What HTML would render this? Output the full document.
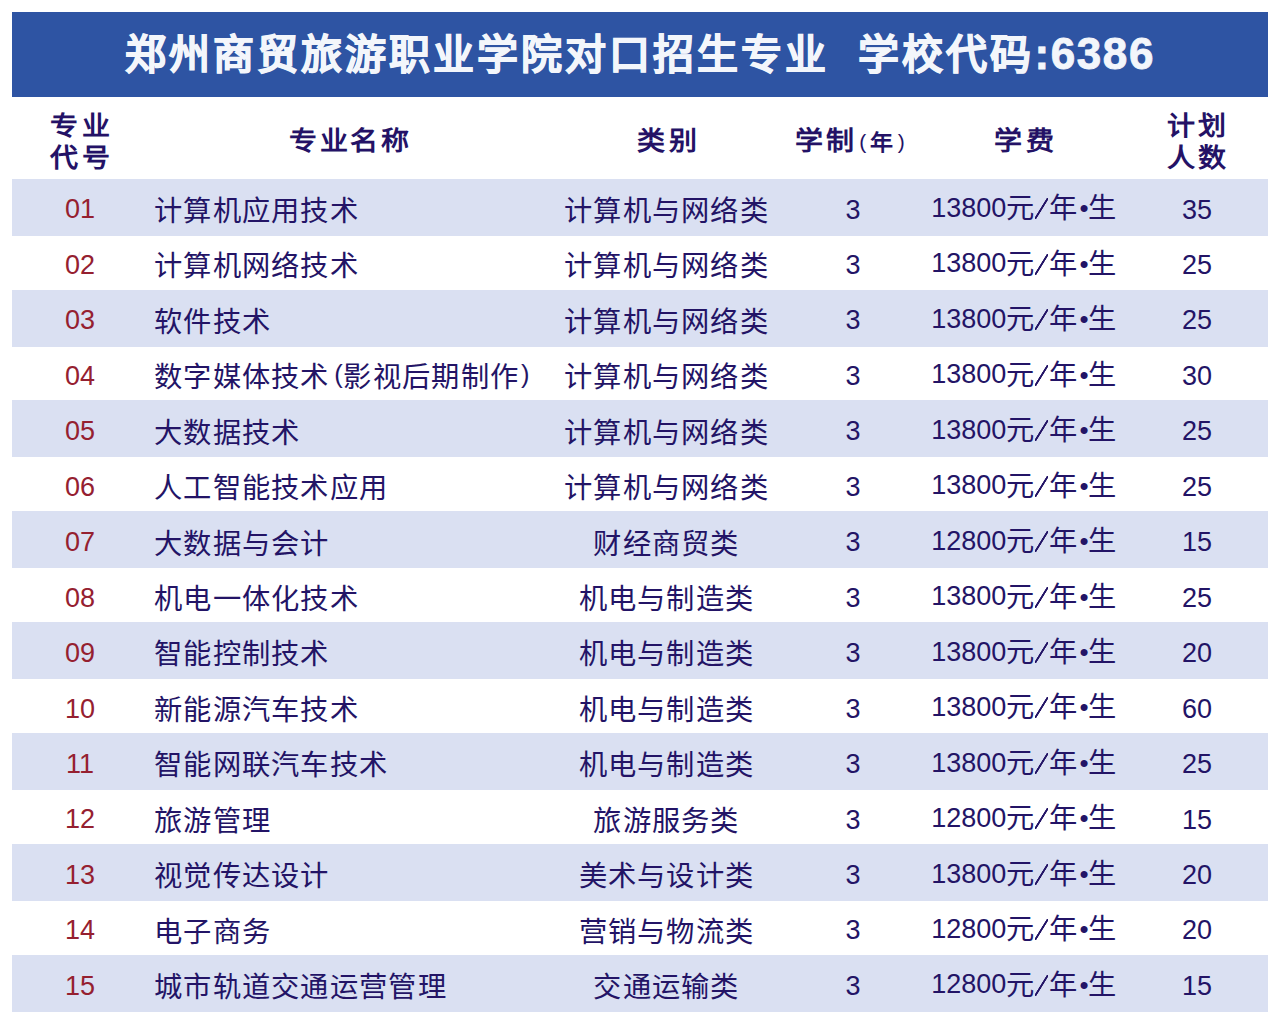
<!DOCTYPE html>
<html lang="zh-CN"><head><meta charset="utf-8"><title>郑州商贸旅游职业学院对口招生专业</title><style>
html,body{margin:0;padding:0;background:#fff;}
body{width:1280px;height:1024px;position:relative;overflow:hidden;font-family:"Liberation Sans",sans-serif;color:#231466;}
.bar{position:absolute;left:12px;top:12px;width:1256px;height:85px;background:#2e54a3;}
.title{position:absolute;left:0;top:24px;width:1280px;height:60px;line-height:60px;text-align:center;color:#f3f6fb;font-size:41px;font-weight:700;letter-spacing:3px;-webkit-text-stroke:0.9px #f3f6fb;white-space:nowrap;}
.title .gap{display:inline-block;width:29.5px;}
.title .n{letter-spacing:1.6px;font-size:44px;}
.st{position:absolute;left:12px;width:1256px;height:57px;background:#dae0f2;}
.h{position:absolute;font-weight:bold;font-size:28px;letter-spacing:2.5px;white-space:nowrap;text-align:center;color:#241266;}
.h{transform:scaleY(0.93);}
.h2{line-height:35px;letter-spacing:3.5px;}
.h .s{font-size:23px;letter-spacing:0;}
.h .s i{font-style:normal;display:inline-block;font-weight:normal;font-size:21px;position:relative;top:-2.4px;}
.r{position:absolute;left:0;width:1280px;height:56px;}
.r div{position:absolute;top:0;height:56px;line-height:56px;white-space:nowrap;font-size:28.3px;letter-spacing:1.3px;}
.d{font-size:27px;letter-spacing:0;position:relative;top:-2.3px;}
.code{left:30px;width:100px;text-align:center;color:#952030;font-size:27px!important;letter-spacing:0!important;}
.code span{position:relative;top:-1.4px;}
.name{left:154px;}
.lp{margin-left:4.5px;margin-right:0.5px;letter-spacing:0;font-size:25.5px;position:relative;top:-4.2px;}
.rp{margin-left:1.9px;letter-spacing:0;font-size:25.5px;position:relative;top:-4.2px;}
.cat{left:516.5px;width:300px;text-align:center;}
.yr{left:803px;width:100px;text-align:center;}
.fee{left:874px;width:300px;text-align:center;margin-top:-2.5px;}
.fee .d{top:-1.3px;}
.sl{display:inline-block;overflow:hidden;color:transparent;font-style:normal;font-size:18px;line-height:21px;text-align:center;width:13px;height:21px;margin:0 1.5px 0 -1px;vertical-align:-1px;background:linear-gradient(to bottom right,transparent calc(50% - 1.3px),#231466 calc(50% - 0.7px),#231466 calc(50% + 0.7px),transparent calc(50% + 1.3px));}
.bu{font-size:26px;letter-spacing:0;margin:0 -1px 0 1px;position:relative;top:-1px;}
.num{left:1147px;width:100px;text-align:center;}
</style></head><body>
<div class="bar"></div>
<div class="title">郑州商贸旅游职业学院对口招生专业<span class="gap"></span>学校代码<span class="n">:6386</span></div>
<div class="h h2" style="left:31.5px;top:106.7px;width:100px;">专业<br>代号</div>
<div class="h" style="left:200px;top:124px;width:300px;line-height:36px;">专业名称</div>
<div class="h" style="left:518.5px;top:124px;width:300px;line-height:36px;letter-spacing:4px;">类别</div>
<div class="h" style="left:750px;top:124px;width:200px;line-height:36px;">学制<span class="s"><i style="margin:0 3.5px 0 3px">(</i>年<i style="margin:0 0 0 5px">)</i></span></div>
<div class="h" style="left:876px;top:124px;width:300px;line-height:36px;letter-spacing:4px;">学费</div>
<div class="h h2" style="left:1148.3px;top:106.7px;width:100px;">计划<br>人数</div>
<div class="st" style="top:178.60px"></div>
<div class="r" style="top:182.80px"><div class="code"><span>01</span></div><div class="name">计算机应用技术</div><div class="cat">计算机与网络类</div><div class="yr"><span class="d">3</span></div><div class="fee"><span class="d">13800</span>元<i class="sl">/</i>年<span class="bu">•</span>生</div><div class="num"><span class="d">35</span></div></div>
<div class="r" style="top:238.26px"><div class="code"><span>02</span></div><div class="name">计算机网络技术</div><div class="cat">计算机与网络类</div><div class="yr"><span class="d">3</span></div><div class="fee"><span class="d">13800</span>元<i class="sl">/</i>年<span class="bu">•</span>生</div><div class="num"><span class="d">25</span></div></div>
<div class="st" style="top:289.52px"></div>
<div class="r" style="top:293.72px"><div class="code"><span>03</span></div><div class="name">软件技术</div><div class="cat">计算机与网络类</div><div class="yr"><span class="d">3</span></div><div class="fee"><span class="d">13800</span>元<i class="sl">/</i>年<span class="bu">•</span>生</div><div class="num"><span class="d">25</span></div></div>
<div class="r" style="top:349.18px"><div class="code"><span>04</span></div><div class="name">数字媒体技术<span class="lp">(</span>影视后期制作<span class="rp">)</span></div><div class="cat">计算机与网络类</div><div class="yr"><span class="d">3</span></div><div class="fee"><span class="d">13800</span>元<i class="sl">/</i>年<span class="bu">•</span>生</div><div class="num"><span class="d">30</span></div></div>
<div class="st" style="top:400.44px"></div>
<div class="r" style="top:404.64px"><div class="code"><span>05</span></div><div class="name">大数据技术</div><div class="cat">计算机与网络类</div><div class="yr"><span class="d">3</span></div><div class="fee"><span class="d">13800</span>元<i class="sl">/</i>年<span class="bu">•</span>生</div><div class="num"><span class="d">25</span></div></div>
<div class="r" style="top:460.10px"><div class="code"><span>06</span></div><div class="name">人工智能技术应用</div><div class="cat">计算机与网络类</div><div class="yr"><span class="d">3</span></div><div class="fee"><span class="d">13800</span>元<i class="sl">/</i>年<span class="bu">•</span>生</div><div class="num"><span class="d">25</span></div></div>
<div class="st" style="top:511.36px"></div>
<div class="r" style="top:515.56px"><div class="code"><span>07</span></div><div class="name">大数据与会计</div><div class="cat">财经商贸类</div><div class="yr"><span class="d">3</span></div><div class="fee"><span class="d">12800</span>元<i class="sl">/</i>年<span class="bu">•</span>生</div><div class="num"><span class="d">15</span></div></div>
<div class="r" style="top:571.02px"><div class="code"><span>08</span></div><div class="name">机电一体化技术</div><div class="cat">机电与制造类</div><div class="yr"><span class="d">3</span></div><div class="fee"><span class="d">13800</span>元<i class="sl">/</i>年<span class="bu">•</span>生</div><div class="num"><span class="d">25</span></div></div>
<div class="st" style="top:622.28px"></div>
<div class="r" style="top:626.48px"><div class="code"><span>09</span></div><div class="name">智能控制技术</div><div class="cat">机电与制造类</div><div class="yr"><span class="d">3</span></div><div class="fee"><span class="d">13800</span>元<i class="sl">/</i>年<span class="bu">•</span>生</div><div class="num"><span class="d">20</span></div></div>
<div class="r" style="top:681.94px"><div class="code"><span>10</span></div><div class="name">新能源汽车技术</div><div class="cat">机电与制造类</div><div class="yr"><span class="d">3</span></div><div class="fee"><span class="d">13800</span>元<i class="sl">/</i>年<span class="bu">•</span>生</div><div class="num"><span class="d">60</span></div></div>
<div class="st" style="top:733.20px"></div>
<div class="r" style="top:737.40px"><div class="code"><span>11</span></div><div class="name">智能网联汽车技术</div><div class="cat">机电与制造类</div><div class="yr"><span class="d">3</span></div><div class="fee"><span class="d">13800</span>元<i class="sl">/</i>年<span class="bu">•</span>生</div><div class="num"><span class="d">25</span></div></div>
<div class="r" style="top:792.86px"><div class="code"><span>12</span></div><div class="name">旅游管理</div><div class="cat">旅游服务类</div><div class="yr"><span class="d">3</span></div><div class="fee"><span class="d">12800</span>元<i class="sl">/</i>年<span class="bu">•</span>生</div><div class="num"><span class="d">15</span></div></div>
<div class="st" style="top:844.12px"></div>
<div class="r" style="top:848.32px"><div class="code"><span>13</span></div><div class="name">视觉传达设计</div><div class="cat">美术与设计类</div><div class="yr"><span class="d">3</span></div><div class="fee"><span class="d">13800</span>元<i class="sl">/</i>年<span class="bu">•</span>生</div><div class="num"><span class="d">20</span></div></div>
<div class="r" style="top:903.78px"><div class="code"><span>14</span></div><div class="name">电子商务</div><div class="cat">营销与物流类</div><div class="yr"><span class="d">3</span></div><div class="fee"><span class="d">12800</span>元<i class="sl">/</i>年<span class="bu">•</span>生</div><div class="num"><span class="d">20</span></div></div>
<div class="st" style="top:955.04px"></div>
<div class="r" style="top:959.24px"><div class="code"><span>15</span></div><div class="name">城市轨道交通运营管理</div><div class="cat">交通运输类</div><div class="yr"><span class="d">3</span></div><div class="fee"><span class="d">12800</span>元<i class="sl">/</i>年<span class="bu">•</span>生</div><div class="num"><span class="d">15</span></div></div>
</body></html>
